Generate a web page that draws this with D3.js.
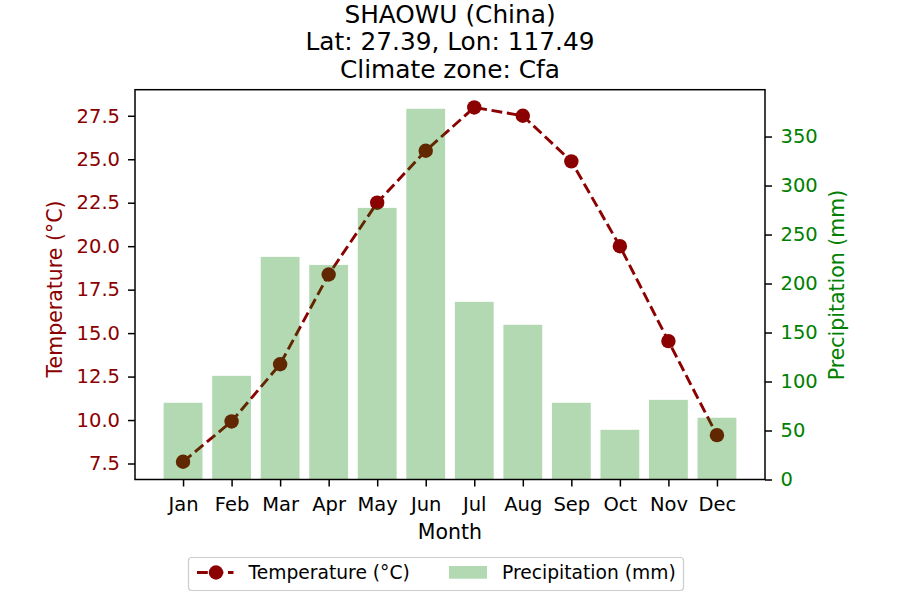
<!DOCTYPE html>
<html><head><meta charset="utf-8">
<script src="https://cdn.jsdelivr.net/npm/d3@7"></script>
<style>body{margin:0;background:#fff}svg{font-family:"DejaVu Sans",sans-serif}</style>
</head><body><svg id="c" width="900" height="600"></svg>
<script>
const months=["Jan","Feb","Mar","Apr","May","Jun","Jul","Aug","Sep","Oct","Nov","Dec"];
const temperature=[7.6,9.92,13.21,18.37,22.5,25.49,27.98,27.5,24.88,20.0,14.54,9.13];
const precipitation=[78.3,105.8,227.2,219,277.2,378.3,181.3,157.9,78.3,50.7,81.3,63];
const tempTicks=[7.5,10,12.5,15,17.5,20,22.5,25,27.5];
const precTicks=[0,50,100,150,200,250,300,350];
const titleLines=["SHAOWU (China)","Lat: 27.39, Lon: 117.49","Climate zone: Cfa"];

const svg=d3.select("#c");
const L=135,R=765,T=89.7,B=479.5;
const x=d3.scaleLinear().domain([-0.99,11.99]).range([L,R]);
const yT=d3.scaleLinear().domain([6.58,29.0]).range([B,T]);
const yP=d3.scaleLinear().domain([0,397.8]).range([B,T]);
const red="#8b0000",green="#008000";
const tickFs=19.5, labFs=20.5, titleFs=24.8, legFs=18.7;
const dash="10.8,4.7";

// line
const line=d3.line().x((d,i)=>x(i)).y(d=>yT(d));
svg.append("path").datum(temperature).attr("d",line).attr("fill","none")
 .attr("stroke",red).attr("stroke-width",2.9).attr("stroke-dasharray",dash);
svg.selectAll("circle.t").data(temperature).join("circle").attr("class","t")
 .attr("cx",(d,i)=>x(i)).attr("cy",d=>yT(d)).attr("r",7.2).attr("fill",red);
// bars on top
const bw=0.8*(x(1)-x(0));
svg.selectAll("rect.p").data(precipitation).join("rect").attr("class","p")
 .attr("x",(d,i)=>x(i)-bw/2).attr("width",bw).attr("y",d=>yP(d)).attr("height",d=>B-yP(d))
 .attr("fill",green).attr("fill-opacity",0.3);

// frame
svg.append("rect").attr("x",L).attr("y",T).attr("width",R-L).attr("height",B-T)
 .attr("fill","none").attr("stroke","#000").attr("stroke-width",1.5);

// axes
const ax=svg.append("g").attr("transform",`translate(0,${B})`)
 .call(d3.axisBottom(x).tickValues(d3.range(12)).tickFormat(i=>months[i]).tickSize(7).tickPadding(11));
const al=svg.append("g").attr("transform",`translate(${L},0)`)
 .call(d3.axisLeft(yT).tickValues(tempTicks).tickFormat(d3.format(".1f")).tickSize(7).tickPadding(8));
const ar=svg.append("g").attr("transform",`translate(${R},0)`)
 .call(d3.axisRight(yP).tickValues(precTicks).tickSize(7).tickPadding(8.5));
[ax,al,ar].forEach(g=>{g.select(".domain").remove();g.attr("font-size",tickFs).attr("font-family","DejaVu Sans");g.selectAll("line").attr("stroke","#000").attr("stroke-width",1.5);});
ax.selectAll("text").attr("fill","#000");
al.selectAll("text").attr("fill",red);
ar.selectAll("text").attr("fill",green);

// labels
svg.append("text").attr("x",(L+R)/2).attr("y",539).attr("text-anchor","middle").attr("font-size",labFs).text("Month");
svg.append("text").attr("transform",`translate(62.3,289) rotate(-90)`).attr("text-anchor","middle").attr("font-size",labFs).attr("fill",red).text("Temperature (°C)");
svg.append("text").attr("transform",`translate(843.5,285) rotate(-90)`).attr("text-anchor","middle").attr("font-size",labFs).attr("fill",green).text("Precipitation (mm)");

// title
svg.selectAll("text.title").data(titleLines).join("text").attr("class","title")
 .attr("x",450).attr("y",(d,i)=>22.7+i*27.4).attr("text-anchor","middle").attr("font-size",titleFs).text(d=>d);

// legend
const lg=svg.append("g");
lg.append("rect").attr("x",188.5).attr("y",557.5).attr("width",495).attr("height",33).attr("rx",3)
 .attr("fill","#fff").attr("stroke","#ccc").attr("stroke-width",1.2);
lg.append("line").attr("x1",197).attr("x2",233.5).attr("y1",572.5).attr("y2",572.5).attr("stroke",red).attr("stroke-width",2.9).attr("stroke-dasharray",dash);
lg.append("circle").attr("cx",216).attr("cy",572.5).attr("r",7.2).attr("fill",red);
lg.append("text").attr("x",248.5).attr("y",579.3).attr("font-size",legFs).text("Temperature (°C)");
lg.append("rect").attr("x",449).attr("y",566).attr("width",38).attr("height",12.7).attr("fill",green).attr("fill-opacity",0.3);
lg.append("text").attr("x",502).attr("y",579.3).attr("font-size",legFs).text("Precipitation (mm)");
</script></body></html>
